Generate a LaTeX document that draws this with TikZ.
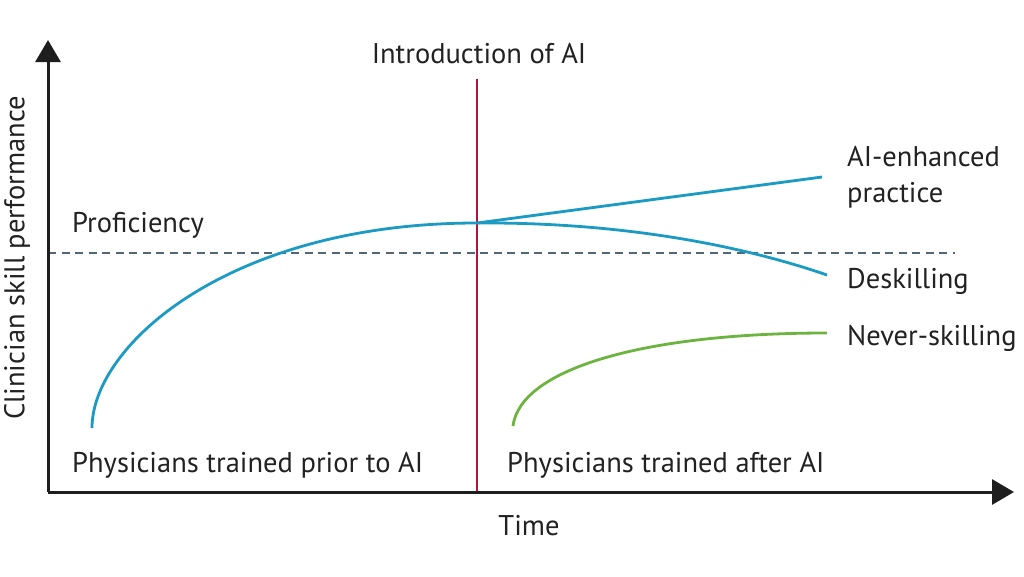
\documentclass[tikz,border=0pt]{standalone}
\usepackage{fontspec}
\setmainfont{PT Sans}
\usetikzlibrary{arrows.meta}
\definecolor{cblue}{HTML}{1B9BC4}
\definecolor{cgreen}{HTML}{6DB33F}
\definecolor{cred}{HTML}{B5123E}
\definecolor{cdash}{HTML}{536675}
\definecolor{caxis}{HTML}{1E1E1E}
\definecolor{ctext}{HTML}{222222}
\begin{document}
\begin{tikzpicture}[x=1pt,y=-1pt,
  axisline/.style={draw=caxis,line width=3pt,-{Triangle[length=22pt,width=25pt]}},
  curve/.style={line width=2.8pt},
  lbl/.style={inner sep=0pt,font=\fontsize{28.5}{32}\selectfont,text=ctext}]
\useasboundingbox[fill=white] (0,0) rectangle (1024,576);
% coordinates
\coordinate (O) at (48,492);
\coordinate (Ytop) at (48,40);
\coordinate (Xend) at (1014,492);
\coordinate (Rtop) at (477,79);
\coordinate (Rbot) at (477,492);
\coordinate (Dl) at (48,253);
\coordinate (Dr) at (955,253);
\coordinate (Bs) at (92,428);
\coordinate (Peak) at (477,223);
\coordinate (Enh) at (822,177);
\coordinate (Desk) at (827,275);
\coordinate (Gs) at (513,426);
\coordinate (Ge) at (827,333);
% dashed proficiency line
\draw[cdash,line width=2.6pt,dash pattern=on 8pt off 5.5pt] (Dl) -- (Dr);
% red line
\draw[cred,line width=2.6pt] (Rtop) -- (Rbot);
% curves
\draw[cblue,curve] (Bs) .. controls (92,345) and (230,223) .. (Peak);
\draw[cblue,curve] (Peak) -- (Enh);
\draw[cblue,curve] (Peak) .. controls (620,222) and (740,245) .. (Desk);
\draw[cgreen,curve] (Gs) .. controls (520,370) and (640,333) .. (Ge);
% axes
\draw[axisline] (O) -- (Ytop);
\draw[axisline] (O) -- (Xend);
% labels
\node[lbl,anchor=base] (intro) at (479,63) {Introduction of AI};
\node[lbl,anchor=base west] (prof) at (72,232) {Proficiency};
\node[lbl,anchor=base west] (enh1) at (847,166) {AI-enhanced};
\node[lbl,anchor=base west] (enh2) at (847,202) {practice};
\node[lbl,anchor=base west] (deskl) at (847,288) {Deskilling};
\node[lbl,anchor=base west] (never) at (847,345) {Never-skilling};
\node[lbl,anchor=base west] (prior) at (72,472) {Physicians trained prior to AI};
\node[lbl,anchor=base west] (after) at (507,472) {Physicians trained after AI};
\node[lbl,anchor=base] (time) at (529,535) {Time};
\node[lbl,anchor=center,rotate=90] (yl) at (17,258) {Clinician skill performance};
\end{tikzpicture}
\end{document}
